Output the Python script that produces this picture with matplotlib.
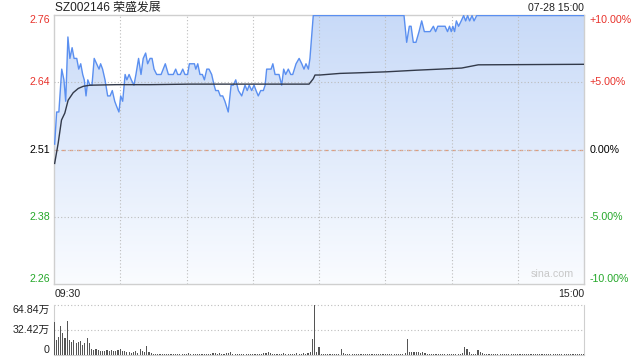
import numpy as np
import matplotlib
matplotlib.use("Agg")
import matplotlib.pyplot as plt
from matplotlib.colors import LinearSegmentedColormap

plt.rcParams['font.family'] = ['Liberation Sans', 'Noto Sans CJK SC', 'DejaVu Sans']

# ---- data ----
title = "SZ002146 荣盛发展"
stamp = "07-28 15:00"
prev_close = 2.51

# price line: minutes since 09:30 (lunch removed) and price
price_t = [0.3, 1.2, 2.2, 3.5, 4.5, 5.3, 6.3, 7.2, 8.2, 9.1, 10.3, 11.2, 12.1, 13.0, 13.7,
           14.5, 15.3, 16.3, 17.2, 18.2, 19.3, 20.4, 21.1, 22.0, 23.1, 24.3, 25.4, 26.4,
           27.5, 28.4, 29.4, 30.2, 31.1, 32.2, 33.0, 34.0, 35.0, 36.2, 37.1, 38.3, 39.4,
           40.4, 41.5, 42.4, 43.5, 44.4, 45.3, 46.5, 48.5, 50.4, 51.8, 54.0, 55.1, 56.0,
           57.2, 58.3, 59.3, 60.5, 61.3, 63.6, 64.2, 65.1, 66.1, 67.2, 68.1, 69.2, 70.2,
           71.4, 72.5, 73.2, 74.4, 75.3, 76.4, 77.4, 78.9, 80.2, 81.2, 82.3, 83.5, 85.0,
           86.5, 87.5, 88.4, 89.5, 90.6, 91.5, 92.5, 93.6, 94.8, 95.6, 96.3, 97.4, 98.3,
           99.1, 100.1, 101.9, 103.1, 104.0, 104.9, 106.1, 107.2, 108.1, 109.6, 111.0,
           112.2, 113.2, 114.1, 115.2, 115.9, 117.4, 158.5, 159.7, 160.9, 161.7, 162.7,
           163.9, 165.3, 166.5, 167.7, 170.3, 171.8, 172.8, 173.8, 177.1, 178.2, 179.1,
           179.9, 180.6, 181.4, 182.2, 183.2, 184.4, 185.5, 186.4, 187.3, 188.2, 189.3,
           190.2, 191.4, 192.6, 240.0]
price_v = [2.52, 2.58, 2.58, 2.66, 2.64, 2.60, 2.72, 2.68, 2.70, 2.68, 2.68, 2.66, 2.67, 2.65, 2.64,
           2.61, 2.64, 2.63, 2.63, 2.68, 2.67, 2.66, 2.67, 2.66, 2.64, 2.61, 2.61, 2.62,
           2.60, 2.59, 2.58, 2.61, 2.60, 2.65, 2.64, 2.65, 2.64, 2.63, 2.65, 2.68, 2.65,
           2.68, 2.69, 2.67, 2.68, 2.68, 2.66, 2.65, 2.65, 2.67, 2.65, 2.65, 2.66, 2.65,
           2.65, 2.66, 2.65, 2.65, 2.67, 2.67, 2.66, 2.67, 2.65, 2.65, 2.64, 2.66, 2.66,
           2.65, 2.63, 2.62, 2.62, 2.61, 2.61, 2.60, 2.58, 2.63, 2.63, 2.64, 2.62, 2.61,
           2.63, 2.62, 2.63, 2.62, 2.63, 2.62, 2.61, 2.62, 2.62, 2.63, 2.66, 2.66, 2.66,
           2.67, 2.65, 2.65, 2.63, 2.66, 2.65, 2.66, 2.65, 2.65, 2.67, 2.68,
           2.67, 2.66, 2.67, 2.66, 2.68, 2.76, 2.76, 2.71, 2.74, 2.74, 2.71,
           2.71, 2.73, 2.75, 2.73, 2.73, 2.74, 2.73, 2.74, 2.74, 2.73, 2.74,
           2.73, 2.74, 2.73, 2.75, 2.74, 2.75, 2.76, 2.75, 2.76, 2.75, 2.76,
           2.75, 2.76, 2.76, 2.76]

# average price line
avg_t = [0.3, 1.9, 3.4, 4.9, 6.4, 8.7, 11.0, 13.3, 16.3, 28.4, 43.5, 61.6, 115.5, 117.4,
         118.2, 120.4, 129.5, 137.1, 150.7, 159.7, 164.2, 174.8, 184.6, 192.1, 240.0]
avg_v = [2.484, 2.522, 2.565, 2.578, 2.602, 2.616, 2.624, 2.628, 2.630, 2.631, 2.631, 2.632,
         2.632, 2.642, 2.649, 2.649, 2.652, 2.653, 2.655, 2.657, 2.658, 2.660, 2.662, 2.668,
         2.669]

# volume per minute, in 万 shares
volume = [43, 20, 23, 38, 28, 22, 44, 20, 17, 20, 15, 17, 18, 13, 15, 22, 15,
          7.8, 6.5, 7.4, 6.5, 5.2, 5.2, 5.8, 6.5, 5.2, 6.5, 5.2, 5.8, 6.5, 7.8, 5.8, 5.2,
          4.5, 3.4, 2.8, 3.4, 5.2, 2.8, 7.4, 5.2, 3.4,
          11.7,
          3.4, 2.2, 1.3, 1.0, 1.3, 1.0, 1.3, 1.0, 0.9, 1.3, 1.0, 1.3, 1.7, 1.0, 1.3, 1.0, 1.3,
          1.0, 3.0, 1.7, 1.3, 1.7, 1.3, 1.0, 1.3, 1.7, 1.0, 1.3, 1.0, 2.2, 3.0, 1.7, 2.2, 1.3,
          1.7, 2.2, 3.0,
          4.3, 1.3, 1.7, 1.0, 1.3, 1.0, 1.3, 0.9, 1.0, 1.3, 1.7, 1.3, 1.0, 1.3, 1.7, 2.2, 3.0,
          4.3, 3.0, 1.7,
          1.3, 1.7, 1.0, 1.3, 3.0, 1.7, 1.3, 1.0, 1.3, 1.7, 3.0, 1.7, 1.3, 2.2, 1.7, 2.2, 3.5,
          20.4, 64.84, 4.3, 10.4,
          1.3, 1.0, 0.9, 1.0, 1.3, 1.0, 0.9, 1.3, 1.7, 7.5, 2.2, 1.3, 1.0, 1.3, 0.9, 1.0, 1.3,
          1.0, 0.9, 1.0,
          1.3, 1.0, 0.9, 1.3, 1.0, 1.3, 1.7, 1.0, 0.9, 1.3, 1.0, 1.3, 0.9, 1.0, 1.3, 1.7, 1.3,
          1.7, 2.2,
          20.8,
          4.5, 4.0, 4.0, 3.5, 4.5, 3.0, 3.5, 2.2, 1.7, 1.3, 1.7, 1.3, 1.0, 1.3, 1.7, 1.3, 1.0,
          1.3, 1.7, 1.3, 1.0, 1.3, 1.7, 1.3, 2.2,
          10.6, 8.0, 4.0,
          1.7, 1.3, 1.7,
          7.0, 4.0, 2.2,
          1.0, 0.9, 1.0, 0.9, 1.0, 0.9, 0.8, 1.0, 0.9, 0.8, 1.0, 0.9, 1.0, 0.8, 0.9, 1.0, 0.9,
          0.8, 1.0, 0.9, 1.0, 0.8, 0.9, 1.0, 0.9, 0.8, 1.0, 0.9, 1.0, 0.8, 0.9, 1.0, 0.9, 0.8,
          1.0, 0.9, 1.0, 0.9, 0.8, 1.0, 0.9, 0.8, 1.0, 0.9, 1.0, 1.3]

price_labels = ["2.76", "2.64", "2.51", "2.38", "2.26"]
pct_labels = ["+10.00%", "+5.00%", "0.00%", "-5.00%", "-10.00%"]
vol_labels = ["64.84万", "32.42万", "0"]
vol_max = 64.84

RED = '#e8332c'
GREEN = '#25a82a'
BORDER = '#cfcfcf'
GRID = '#bdbdbd'

fig = plt.figure(figsize=(6.4, 3.6), dpi=100)
W, H = 640, 360


def frac(x0, y0, x1, y1):
    return [x0 / W, 1 - y1 / H, (x1 - x0) / W, (y1 - y0) / H]


# ---- price panel ----
ax = fig.add_axes(frac(54, 15, 584, 284))
ylo, yhi = prev_close * 0.9, prev_close * 1.1

cmap = LinearSegmentedColormap.from_list('fill', ['#fafcff', '#c8daf8'])
grad = np.linspace(0, 1, 256).reshape(-1, 1)
img = ax.imshow(grad, extent=[0, 240, ylo, yhi], origin='lower', aspect='auto',
                cmap=cmap, zorder=1, interpolation='bilinear')
poly = ax.fill_between(price_t, price_v, ylo, color='none', lw=0)
img.set_clip_path(poly.get_paths()[0], ax.transData)

ax.set_xticks(range(30, 240, 30))
ax.set_yticks([prev_close * 1.05, prev_close, prev_close * 0.95])
ax.grid(True, color=GRID, linestyle=(0, (1, 2)), linewidth=0.8, zorder=2)
ax.axhline(prev_close, color='#e49a78', linestyle=(0, (3, 3)), linewidth=0.9, zorder=2.5)
ax.set_axisbelow(False)

ax.plot(price_t, price_v, color='#5a8ff0', lw=1.0, zorder=3)
ax.plot(avg_t, avg_v, color='#333a4a', lw=1.0, zorder=4)

ax.set_xlim(0, 240)
ax.set_ylim(ylo, yhi)
ax.tick_params(length=0, labelleft=False, labelbottom=False)
for s in ax.spines.values():
    s.set_color(BORDER)
    s.set_linewidth(1)

ypos = [yhi, prev_close * 1.05, prev_close, prev_close * 0.95, ylo]
vas = ['top', 'center', 'center', 'center', 'bottom']
cols = [RED, RED, 'black', GREEN, GREEN]
for y, va, c, lab, pct in zip(ypos, vas, cols, price_labels, pct_labels):
    ax.text(-0.007, y, lab, transform=ax.get_yaxis_transform(), ha='right', va=va,
            color=c, fontsize=7.7)
    ax.text(1.011, y, pct, transform=ax.get_yaxis_transform(), ha='left', va=va,
            color=c, fontsize=7.7)

ax.text(0.981, 0.018, "sina.com", transform=ax.transAxes, ha='right', va='bottom',
        color='#c8c8c8', fontsize=7.7, zorder=5)

fig.text(55 / W, 1 - 8 / H, title, ha='left', va='center', fontsize=8.6, color='#222222')
fig.text(584 / W, 1 - 8 / H, stamp, ha='right', va='center', fontsize=7.6, color='#222222')
fig.text(55 / W, 1 - 294 / H, "09:30", ha='left', va='center', fontsize=7.6, color='#222222')
fig.text(584 / W, 1 - 294 / H, "15:00", ha='right', va='center', fontsize=7.6, color='#222222')

# ---- volume panel ----
axv = fig.add_axes(frac(54, 305, 584, 355))
axv.bar(np.arange(len(volume)), volume, width=0.5, color='#555555', lw=0, zorder=3)
axv.set_xlim(0, 240)
axv.set_ylim(0, vol_max)
axv.set_xticks([])
axv.set_yticks([vol_max / 2])
axv.grid(True, axis='y', color=GRID, linestyle=(0, (1, 2)), linewidth=0.8)
axv.axhline(vol_max, color=GRID, linestyle=(0, (1, 2)), linewidth=0.8, clip_on=False)
axv.tick_params(length=0, labelleft=False)
axv.spines['top'].set_visible(False)
for k in ['left', 'right', 'bottom']:
    axv.spines[k].set_color(BORDER)

for y, va, lab in zip([vol_max, vol_max / 2, 0], ['top', 'center', 'bottom'], vol_labels):
    axv.text(-0.008, y, lab, transform=axv.get_yaxis_transform(), ha='right', va=va,
             color='#222222', fontsize=7.7)

fig.savefig('out.png', dpi=100)
